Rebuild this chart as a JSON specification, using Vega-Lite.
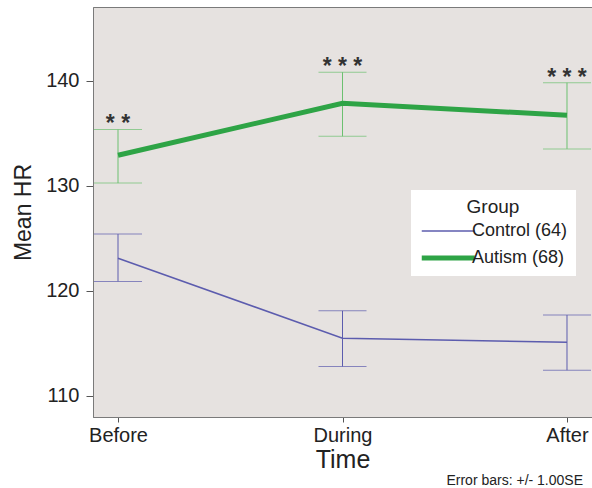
{
  "$schema": "https://vega.github.io/schema/vega-lite/v6.json",
  "width": 499,
  "height": 410,
  "autosize": {"type": "none"},
  "padding": {"left": 93, "top": 7, "right": 0, "bottom": 71},
  "background": "white",
  "config": {
    "font": "Liberation Sans",
    "view": {"fill": "#e6e2e0", "stroke": "#7a7a7a", "strokeWidth": 1}
  },
  "title": {
    "text": "Error bars: +/- 1.00SE",
    "orient": "bottom",
    "anchor": "end",
    "fontSize": 14,
    "fontWeight": "normal",
    "color": "#222222",
    "dx": -9,
    "offset": 2
  },
  "data": {
    "values": [
      {"Group": "Control (64)", "Time": "Before", "mean": 123.1, "lo": 120.9, "hi": 125.4, "sig": ""},
      {"Group": "Control (64)", "Time": "During", "mean": 115.5, "lo": 112.8, "hi": 118.1, "sig": ""},
      {"Group": "Control (64)", "Time": "After", "mean": 115.1, "lo": 112.45, "hi": 117.7, "sig": ""},
      {"Group": "Autism (68)", "Time": "Before", "mean": 132.9, "lo": 130.25, "hi": 135.35, "sig": "* *"},
      {"Group": "Autism (68)", "Time": "During", "mean": 137.85, "lo": 134.7, "hi": 140.8, "sig": "* * *"},
      {"Group": "Autism (68)", "Time": "After", "mean": 136.7, "lo": 133.5, "hi": 139.8, "sig": "* * *"}
    ]
  },
  "encoding": {
    "x": {
      "field": "Time",
      "type": "nominal",
      "sort": ["Before", "During", "After"],
      "scale": {"type": "point", "padding": 0.1114},
      "axis": {
        "title": "Time",
        "titleFontSize": 25,
        "titleFontWeight": "normal",
        "titleColor": "#222222",
        "titlePadding": 2,
        "labelFontSize": 20,
        "labelColor": "#222222",
        "labelAngle": 0,
        "labelPadding": 3,
        "tickSize": 5,
        "tickColor": "#555555",
        "domainColor": "#7a7a7a",
        "grid": false
      }
    }
  },
  "layer": [
    {
      "mark": {"type": "rule", "strokeWidth": 1},
      "encoding": {
        "y": {
          "field": "lo",
          "type": "quantitative",
          "scale": {"domain": [108, 147], "nice": false, "zero": false},
          "axis": {
            "title": "Mean HR",
            "titleFontSize": 23,
            "titleFontWeight": "normal",
            "titleColor": "#222222",
            "titlePadding": 10,
            "labelFontSize": 20,
            "labelColor": "#222222",
            "labelPadding": 7,
            "values": [110, 120, 130, 140],
            "tickSize": 7,
            "tickColor": "#555555",
            "domainColor": "#7a7a7a",
            "grid": false
          }
        },
        "y2": {"field": "hi"},
        "stroke": {
          "condition": {"test": "datum.Group === 'Autism (68)'", "value": "#6cc070"},
          "value": "#5c5cae"
        }
      }
    },
    {
      "mark": {"type": "tick", "thickness": 1, "size": 48},
      "encoding": {
        "y": {"field": "lo", "type": "quantitative"},
        "color": {
          "condition": {"test": "datum.Group === 'Autism (68)'", "value": "#6cc070"},
          "value": "#5c5cae"
        }
      }
    },
    {
      "mark": {"type": "tick", "thickness": 1, "size": 48},
      "encoding": {
        "y": {"field": "hi", "type": "quantitative"},
        "color": {
          "condition": {"test": "datum.Group === 'Autism (68)'", "value": "#6cc070"},
          "value": "#5c5cae"
        }
      }
    },
    {
      "mark": {"type": "line"},
      "encoding": {
        "y": {"field": "mean", "type": "quantitative"},
        "color": {
          "field": "Group",
          "type": "nominal",
          "sort": ["Control (64)", "Autism (68)"],
          "scale": {"domain": ["Control (64)", "Autism (68)"], "range": ["#5c5cae", "#2ea446"]},
          "legend": {
            "title": "Group",
            "orient": "none",
            "legendX": 318,
            "legendY": 183,
            "fillColor": "white",
            "padding": 8,
            "titleFontSize": 19,
            "titleFontWeight": "normal",
            "titleColor": "#222222",
            "titleAnchor": "middle",
            "titlePadding": 0,
            "rowPadding": 2,
            "labelFontSize": 18,
            "labelColor": "#222222",
            "labelOffset": 21,
            "symbolType": "M-1,0L3,0",
            "symbolSize": 702
          }
        },
        "strokeWidth": {
          "field": "Group",
          "type": "nominal",
          "sort": ["Control (64)", "Autism (68)"],
          "scale": {"domain": ["Control (64)", "Autism (68)"], "range": [1.5, 5]},
          "legend": {
            "title": "Group",
            "orient": "none",
            "legendX": 318,
            "legendY": 183
          }
        }
      }
    },
    {
      "mark": {"type": "text", "fontSize": 23, "fontWeight": "bold", "baseline": "alphabetic", "dy": 2, "color": "#333333"},
      "encoding": {
        "y": {"field": "hi", "type": "quantitative"},
        "text": {"field": "sig"}
      }
    }
  ]
}
